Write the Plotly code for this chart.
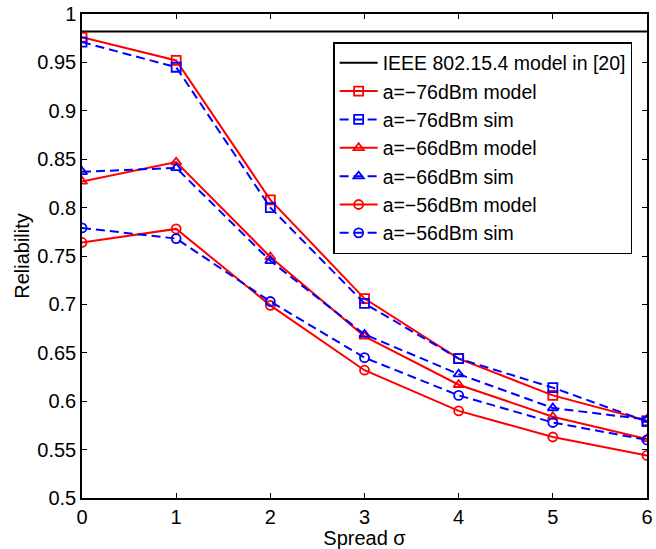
import plotly.graph_objects as go

x = [0, 1, 2, 3, 4, 5, 6]
ieee_level = 0.982

m76_model = [0.976, 0.952, 0.808, 0.706, 0.644, 0.606, 0.580]
m76_sim   = [0.971, 0.945, 0.800, 0.701, 0.644, 0.614, 0.579]
m66_model = [0.827, 0.847, 0.749, 0.667, 0.617, 0.584, 0.561]
m66_sim   = [0.837, 0.841, 0.745, 0.669, 0.628, 0.593, 0.581]
m56_model = [0.764, 0.778, 0.699, 0.632, 0.590, 0.563, 0.544]
m56_sim   = [0.779, 0.768, 0.703, 0.645, 0.606, 0.578, 0.560]

yticks = [0.5, 0.55, 0.6, 0.65, 0.7, 0.75, 0.8, 0.85, 0.9, 0.95, 1.0]
ytext = ["0.5", "0.55", "0.6", "0.65", "0.7", "0.75", "0.8", "0.85", "0.9", "0.95", "1"]
xticks = [0, 1, 2, 3, 4, 5, 6]

RED = "#ff0000"
BLUE = "#0000ff"
FONT = "Liberation Sans, Arial, sans-serif"

fig = go.Figure()
fig.add_trace(go.Scatter(x=[x[0], x[-1]], y=[ieee_level, ieee_level], mode="lines",
                         line=dict(color="black", width=2),
                         name="IEEE 802.15.4 model in [20]"))

series = [
    ("a=\u221276dBm model", m76_model, RED, "solid", "square-open"),
    ("a=\u221276dBm sim", m76_sim, BLUE, "9px,5px", "square-open"),
    ("a=\u221266dBm model", m66_model, RED, "solid", "triangle-up-open"),
    ("a=\u221266dBm sim", m66_sim, BLUE, "9px,5px", "triangle-up-open"),
    ("a=\u221256dBm model", m56_model, RED, "solid", "circle-open"),
    ("a=\u221256dBm sim", m56_sim, BLUE, "9px,5px", "circle-open"),
]
for name, ys, col, dash, sym in series:
    fig.add_trace(go.Scatter(x=x, y=ys, mode="lines+markers", name=name,
                             line=dict(color=col, width=2, dash=dash),
                             marker=dict(symbol=sym, size=9, color=col,
                                         line=dict(color=col, width=1.8))))

axis_common = dict(showline=True, linecolor="black", linewidth=1.5, mirror="allticks",
                   ticks="inside", ticklen=5, tickwidth=1, tickcolor="black",
                   showgrid=False, zeroline=False, ticklabeloverflow="allow",
                   tickfont=dict(family=FONT, size=20, color="black"))

fig.update_layout(
    width=656, height=549,
    margin=dict(l=82, r=3, t=12, b=51),
    plot_bgcolor="white", paper_bgcolor="white",
    showlegend=True,
    legend=dict(x=0.9737, y=0.942, xanchor="right", yanchor="top",
                bgcolor="white", bordercolor="black", borderwidth=1.5,
                font=dict(family=FONT, size=19.5, color="black"),
                itemwidth=38, tracegroupgap=0),
    xaxis=dict(range=[0, 6], tickvals=xticks,
               title=dict(text="Spread \u03c3", font=dict(family=FONT, size=20, color="black"), standoff=0),
               **axis_common),
    yaxis=dict(range=[0.5, 1.0], tickvals=yticks, ticktext=ytext,
               title=dict(text="Reliability", font=dict(family=FONT, size=20, color="black"), standoff=2),
               **axis_common),
)

fig.write_html("out.html")
